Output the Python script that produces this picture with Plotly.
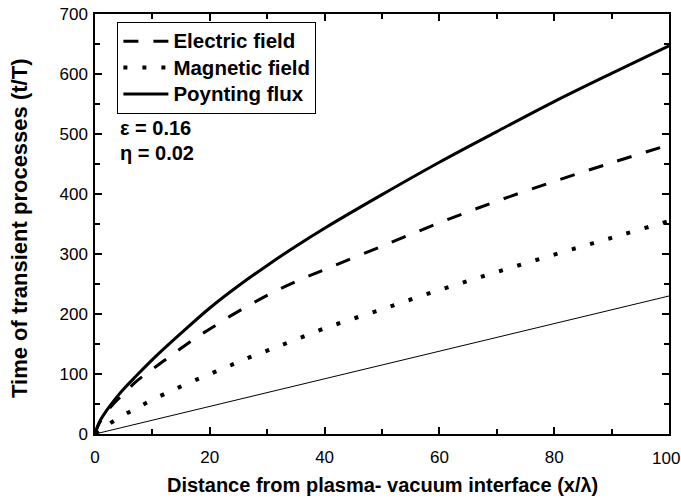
import plotly.graph_objects as go

# Electric field (dashed)
x_electric = [0, 0.5, 1, 2, 3, 4, 5, 7, 10, 12, 15, 18, 20, 24, 30, 35, 40, 50, 60, 70, 80, 90, 100]
y_electric = [0, 13, 22, 36, 48, 58, 67, 86, 108, 122, 143, 163, 175, 199, 231, 254, 274, 313, 352, 388, 421, 452, 482]

# Magnetic field (dotted)
x_magnetic = [0, 1, 2, 4, 7, 10, 14, 18, 21, 24, 27, 30, 33, 40, 50, 60, 70, 80, 90, 100]
y_magnetic = [0, 8, 14, 26, 42, 57, 75, 92, 104, 116, 128, 139, 150, 176, 208, 240, 270, 299, 327, 355]

# Poynting flux (solid)
x_poynting = [0, 0.5, 1, 2, 3, 4, 5, 7, 10, 15, 20, 25, 30, 35, 40, 50, 60, 70, 80, 90, 100]
y_poynting = [0, 14, 24, 39, 52, 64, 75, 95, 124, 168, 210, 247, 281, 313, 343, 399, 453, 504, 554, 601, 647]

# Thin reference line
x_ref = [0, 100]
y_ref = [0, 230]

# x tick labels (last one placed separately so it stays inside the page)
x_tickvals = [0, 20, 40, 60, 80, 100]
x_ticktext = ["0", "20", "40", "60", "80", ""]
x_last_tick = 100

legend_names = ["Electric field", "Magnetic field", "Poynting flux"]
x_title = "<b>Distance from plasma- vacuum interface (x/λ)</b>"
y_title = "<b>Time of transient processes (t/T)</b>"

FONT = "Arial, 'Liberation Sans', sans-serif"


def legend_label(s):
    return "<span style='font-size:20.5px'><b>" + s + "</b></span>"


fig = go.Figure()
fig.add_trace(go.Scatter(x=x_electric, y=y_electric, mode="lines", name=legend_label(legend_names[0]),
                         line=dict(color="black", width=3, dash="15px,15px", shape="spline")))
fig.add_trace(go.Scatter(x=x_magnetic, y=y_magnetic, mode="lines", name=legend_label(legend_names[1]),
                         line=dict(color="black", width=4, dash="4px,15px", shape="spline")))
fig.add_trace(go.Scatter(x=x_poynting, y=y_poynting, mode="lines", name=legend_label(legend_names[2]),
                         line=dict(color="black", width=3, shape="spline")))
fig.add_trace(go.Scatter(x=x_ref, y=y_ref, mode="lines", showlegend=False,
                         line=dict(color="black", width=1)))

axis_common = dict(
    showgrid=False, zeroline=False, showline=True, linecolor="black", linewidth=1.5,
    ticks="inside", ticklen=7, tickwidth=1.5, tickcolor="black", mirror="allticks",
    tickfont=dict(family=FONT, size=17, color="black"),
)

fig.update_xaxes(range=[0, 100], tickmode="array", tickvals=x_tickvals, ticktext=x_ticktext,
                 ticklabelstandoff=7,
                 minor=dict(dtick=10, ticks="inside", ticklen=5, tickwidth=1.5, tickcolor="black"),
                 **axis_common)
fig.update_yaxes(range=[0, 700], dtick=100, tick0=0, ticklabelstandoff=2,
                 minor=dict(dtick=50, ticks="inside", ticklen=5, tickwidth=1.5, tickcolor="black"),
                 **axis_common)

# last x tick label
fig.add_annotation(x=x_last_tick, y=0, xref="x", yref="paper", xanchor="center", yanchor="top",
                   xshift=-3, yshift=-13, text=str(x_last_tick), showarrow=False,
                   font=dict(family=FONT, size=17, color="black"))

# axis titles
fig.add_annotation(x=0.5, y=-(485 - 434) / 420, xref="paper", yref="paper",
                   xanchor="center", yanchor="middle", text=x_title, showarrow=False,
                   font=dict(family=FONT, size=20, color="black"))
fig.add_annotation(x=-(95 - 20) / 574, y=(434 - 229) / 420, xref="paper", yref="paper",
                   xanchor="center", yanchor="middle", text=y_title, showarrow=False, textangle=-90,
                   font=dict(family=FONT, size=22, color="black"))

fig.add_annotation(x=0.04, y=0.729, xref="paper", yref="paper", xanchor="left", yanchor="middle",
                   text="<b>ε = 0.16</b>", showarrow=False, font=dict(family=FONT, size=20, color="black"))
fig.add_annotation(x=0.04, y=0.669, xref="paper", yref="paper", xanchor="left", yanchor="middle",
                   text="<b>η = 0.02</b>", showarrow=False, font=dict(family=FONT, size=20, color="black"))

fig.update_layout(
    width=681, height=500,
    margin=dict(l=95, r=12, t=14, b=66, autoexpand=False),
    paper_bgcolor="white", plot_bgcolor="white",
    font=dict(family=FONT, color="black"),
    legend=dict(x=0.039, y=(434 - 22) / 420, xanchor="left", yanchor="top",
                bordercolor="black", borderwidth=1, bgcolor="white",
                font=dict(family=FONT, size=18, color="black"),
                itemwidth=45, tracegroupgap=0),
    showlegend=True,
)

fig.write_html("out.html")
